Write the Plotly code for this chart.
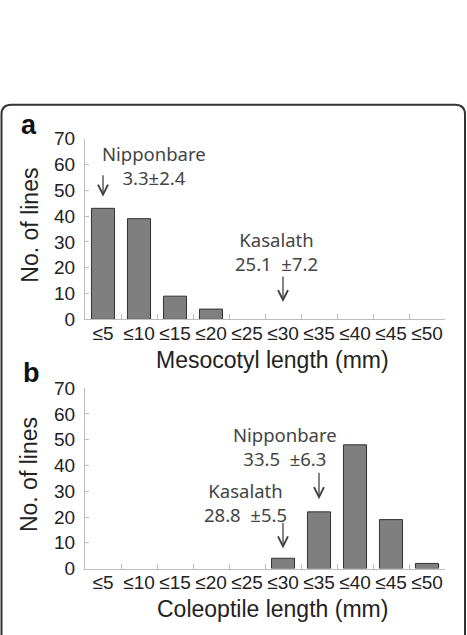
import plotly.graph_objects as go

categories = ["≤5", "≤10", "≤15", "≤20", "≤25", "≤30", "≤35", "≤40", "≤45", "≤50"]
mesocotyl_counts = [43, 39, 9, 4, 0, 0, 0, 0, 0, 0]
coleoptile_counts = [0, 0, 0, 0, 0, 4, 22, 48, 19, 2]
y_ticks = [0, 10, 20, 30, 40, 50, 60, 70]

W, H = 467, 635
def px_x(p):
    return p / W
def px_y(p):
    return 1 - p / H

def bar_style(vals):
    return dict(marker=dict(color="#7f7f7f",
                            line=dict(color="#333333", width=[1 if v > 0 else 0 for v in vals])),
                width=0.64, showlegend=False)

fig = go.Figure()
fig.add_trace(go.Bar(x=categories, y=mesocotyl_counts, xaxis="x", yaxis="y", **bar_style(mesocotyl_counts)))
fig.add_trace(go.Bar(x=categories, y=coleoptile_counts, xaxis="x2", yaxis="y2", **bar_style(coleoptile_counts)))

xtickfont = dict(family="Liberation Sans, Arial", size=19, color="#222222")
ytickfont = dict(family="Liberation Sans, Arial", size=19, color="#222222")
xcommon = dict(type="category", range=[-0.5, 9.5], showline=True, linecolor="#bdbdbd", linewidth=1,
               ticks="inside", tickson="boundaries", ticklen=5, tickcolor="#bdbdbd", tickangle=0,
               showgrid=False, zeroline=False, tickfont=xtickfont, ticklabelstandoff=-3, fixedrange=True)
ycommon = dict(range=[0, 70], tickvals=y_ticks, showline=True, linecolor="#bdbdbd", linewidth=1,
               ticks="inside", ticklen=4, tickcolor="#bdbdbd", showgrid=False, zeroline=False,
               tickfont=ytickfont, ticklabelstandoff=5, fixedrange=True)

xd = [px_x(85), px_x(445)]
fig.update_layout(
    width=W, height=H,
    margin=dict(l=0, r=0, t=0, b=0),
    paper_bgcolor="white", plot_bgcolor="white",
    xaxis=dict(domain=xd, anchor="y", **xcommon),
    yaxis=dict(domain=[px_y(320), px_y(133)], anchor="x", **ycommon),
    xaxis2=dict(domain=xd, anchor="y2", **xcommon),
    yaxis2=dict(domain=[px_y(577.7), px_y(391)], anchor="x2", **ycommon),
)

ann_font = dict(family="Noto Sans, Open Sans", size=18.5, color="#444444")
anns = [
    dict(x=1.43, y=59.5, xref="x", yref="y", text="Nipponbare<br>3.3±2.4", font=ann_font),
    dict(x=4.81, y=26.4, xref="x", yref="y", text="Kasalath<br>25.1  ±7.2", font=ann_font),
    dict(x=5.06, y=47.5, xref="x2", yref="y2", text="Nipponbare<br>33.5  ±6.3", font=ann_font),
    dict(x=3.95, y=25.6, xref="x2", yref="y2", text="Kasalath<br>28.8  ±5.5", font=ann_font),
]
title_font = dict(family="Liberation Sans, Arial", size=23, color="#222222")
label_font = dict(family="Liberation Sans, Arial", size=27, color="#111111")
anns += [
    dict(x=px_x(272), y=px_y(362), xref="paper", yref="paper", text="Mesocotyl length (mm)", font=title_font),
    dict(x=px_x(272), y=px_y(620), xref="paper", yref="paper", text="Coleoptile length (mm)", font=title_font),
    dict(x=px_x(30), y=px_y(223), xref="paper", yref="paper", text="No. of lines", textangle=-90, font=title_font),
    dict(x=px_x(29), y=px_y(481), xref="paper", yref="paper", text="No. of lines", textangle=-90, font=title_font),
    dict(x=px_x(29), y=px_y(119), xref="paper", yref="paper", text="<b>a</b>", font=label_font),
    dict(x=px_x(31), y=px_y(375), xref="paper", yref="paper", text="<b>b</b>", font=label_font),
]
for a in anns:
    a.update(showarrow=False, xanchor="center", yanchor="middle")

# pointer arrows (tip at data position, tail offset in px)
arrow_style = dict(showarrow=True, text="", arrowhead=5, arrowwidth=1.3, arrowsize=1.5,
                   arrowcolor="#444444", ax=0, standoff=0)
anns += [
    dict(x=0, y=47.5, xref="x", yref="y", ay=-23, **arrow_style),
    dict(x=5, y=6.7, xref="x", yref="y", ay=-27, **arrow_style),
    dict(x=6, y=26.9, xref="x2", yref="y2", ay=-28, **arrow_style),
    dict(x=5, y=7.8, xref="x2", yref="y2", ay=-27, **arrow_style),
]
fig.update_layout(annotations=anns)

# rounded border frame
x0, x1 = px_x(1.5), px_x(465)
yt = px_y(98)
yb = -0.05
rx, ry = 10 / W, 10 / H
path = (f"M {x0},{yb} L {x0},{yt - ry} Q {x0},{yt} {x0 + rx},{yt} "
        f"L {x1 - rx},{yt} Q {x1},{yt} {x1},{yt - ry} L {x1},{yb}")
fig.add_shape(type="path", path=path, xref="paper", yref="paper",
              line=dict(color="#333333", width=2))

fig.write_html("out.html")
